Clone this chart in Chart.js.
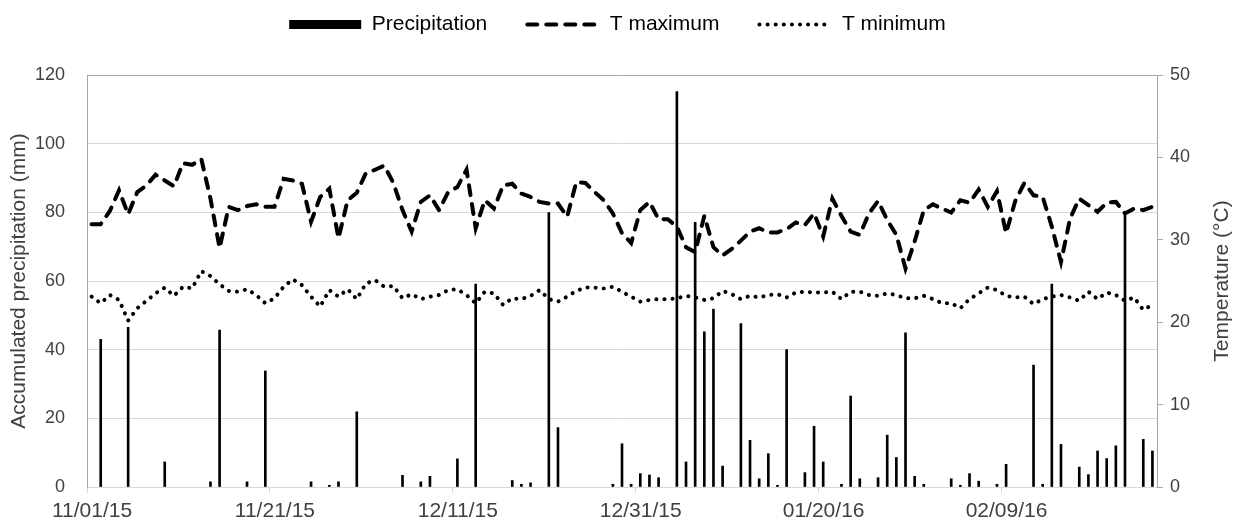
<!DOCTYPE html>
<html>
<head>
<meta charset="utf-8">
<title>Precipitation and temperature</title>
<script src="https://cdn.jsdelivr.net/npm/chart.js@4.4.1/dist/chart.umd.min.js"></script>
<style>
  html, body { margin: 0; padding: 0; background: #fff; }
  #wrap { position: relative; width: 1235px; height: 524px; }
</style>
</head>
<body>
<div id="wrap"><canvas id="chart"></canvas></div>
<script>
"use strict";

/* Daily series, 11/01/15 .. 02/25/16 (117 days). */
const X_TICK_DAYS = [0, 20, 40, 60, 80, 100];
const X_TICK_LABELS = ["11/01/15", "11/21/15", "12/11/15", "12/31/15", "01/20/16", "02/09/16"];

// accumulated precipitation, mm
const PRECIP = [
  0, 43, 0, 0, 46.5, 0, 0, 0, 7.3, 0,
  0, 0, 0, 1.5, 45.7, 0, 0, 1.5, 0, 33.8,
  0, 0, 0, 0, 1.5, 0, 0.5, 1.5, 0, 21.9,
  0, 0, 0, 0, 3.4, 0, 1.5, 3.1, 0, 0,
  8.2, 0, 59.1, 0, 0, 0, 1.9, 0.8, 1.2, 0,
  79.9, 17.3, 0, 0, 0, 0, 0, 0.8, 12.6, 0.8,
  3.9, 3.5, 2.7, 0, 115.2, 7.3, 77.1, 45.2, 51.8, 6.1,
  0, 47.6, 13.6, 2.4, 9.7, 0.5, 40, 0, 4.2, 17.7,
  7.3, 0, 0.8, 26.5, 2.4, 0, 2.7, 15.1, 8.6, 44.9,
  3.1, 0.8, 0, 0, 2.4, 0.5, 3.9, 1.7, 0, 0.8,
  6.6, 0, 0, 35.5, 0.8, 59.1, 12.4, 0, 5.8, 3.6,
  10.5, 8.3, 12.0, 79.4, 0, 13.9, 10.5,
];

// daily maximum temperature, °C
const TMAX = [
  31.9, 31.9, 33.5, 36.0, 33.1, 35.8, 36.6, 37.9, 37.2, 36.5,
  39.3, 39.1, 39.8, 35.0, 29.0, 34.0, 33.6, 34.1, 34.3, 34.0,
  34.0, 37.4, 37.2, 36.8, 32.2, 35.2, 36.2, 30.2, 34.8, 35.7,
  38.1, 38.5, 39.0, 36.9, 33.6, 31.0, 34.6, 35.4, 33.6, 35.8,
  36.4, 38.5, 31.4, 34.8, 33.8, 36.6, 36.8, 35.6, 35.2, 34.6,
  34.4, 34.4, 32.8, 37.0, 36.9, 35.8, 34.8, 33.2, 30.8, 29.6,
  33.6, 34.6, 32.5, 32.5, 31.6, 29.1, 28.5, 32.9, 29.1, 28.1,
  28.9, 29.9, 31.0, 31.4, 30.9, 30.9, 31.3, 32.1, 31.8, 33.2,
  30.4, 35.0, 32.9, 31.0, 30.6, 33.2, 34.7, 32.4, 30.6, 26.5,
  29.8, 33.6, 34.3, 33.8, 33.3, 34.8, 34.5, 36.1, 34.0, 35.9,
  30.8, 34.7, 36.9, 35.4, 35.2, 31.6, 27.3, 32.6, 35.0, 34.2,
  33.4, 34.5, 34.6, 33.2, 33.8, 33.6, 34.0,
];

// daily minimum temperature, °C
const TMIN = [
  23.1, 22.3, 23.3, 22.7, 20.2, 21.7, 22.6, 23.5, 24.2, 23.2,
  24.3, 24.1, 26.2, 25.6, 24.6, 23.8, 23.7, 24.0, 23.3, 22.3,
  22.9, 24.3, 25.2, 24.5, 23.1, 21.9, 23.9, 23.1, 24.0, 22.8,
  24.7, 25.1, 24.3, 24.4, 22.9, 23.4, 22.8, 23.1, 23.3, 23.9,
  24.0, 23.3, 22.3, 23.7, 23.5, 22.1, 22.9, 22.8, 23.2, 23.9,
  22.8, 22.5, 23.1, 23.8, 24.2, 24.2, 24.1, 24.3, 23.7, 23.1,
  22.5, 22.7, 22.8, 22.8, 22.9, 23.2, 23.0, 22.7, 22.9, 23.8,
  23.4, 22.8, 23.2, 23.0, 23.3, 23.4, 23.0, 23.6, 23.7, 23.6,
  23.6, 23.7, 22.8, 23.7, 23.7, 23.3, 23.2, 23.5, 23.3, 22.9,
  22.9, 23.2, 22.8, 22.3, 22.3, 21.7, 22.8, 23.5, 24.2, 23.9,
  23.2, 23.0, 23.1, 22.2, 22.8, 23.1, 23.3, 23.0, 22.6, 23.7,
  22.8, 23.6, 23.3, 22.6, 23.0, 21.5, 22.1,
];

const N_DAYS = PRECIP.length;
const FONT = '"Liberation Sans", Arial, sans-serif';
const TEXT = "#404040";
const GRID = "#d9d9d9";
const AXIS = "#a6a6a6";

Chart.defaults.font.family = FONT;
Chart.defaults.color = TEXT;
Chart.defaults.animation = false;

// each day sits in the middle of its one-day slot on the date axis
const asPoints = (arr) => arr.map((v, i) => ({ x: i + 0.5, y: v }));

/* Excel-style placement: fixed legend band and a right axis title that
 * reads bottom-to-top like the left one. */
const excelLayout = {
  id: "excelLayout",
  beforeInit(chart) {
    const legend = chart.legend;
    const fit = legend.fit;
    legend.fit = function () {
      fit.call(this);
      this.height = 75;
    };
  },
  afterLayout(chart) {
    const legend = chart.legend;
    const h = legend.height;
    legend.top = -26;
    legend.bottom = legend.top + h;
  },
  afterDraw(chart) {
    const { ctx, chartArea } = chart;
    ctx.save();
    ctx.translate(1222, (chartArea.top + chartArea.bottom) / 2);
    ctx.rotate(-Math.PI / 2);
    ctx.font = `21px ${FONT}`;
    ctx.fillStyle = TEXT;
    ctx.textAlign = "center";
    ctx.textBaseline = "middle";
    ctx.fillText("Temperature (°C)", 0, 0);
    ctx.restore();
  },
};

// the point-style legend ignores the line dash, so copy it from the dataset
function legendLabels(chart) {
  const items = Chart.defaults.plugins.legend.labels.generateLabels(chart);
  return items.map((item) => {
    const ds = chart.data.datasets[item.datasetIndex];
    if (ds.type === "line") {
      item.lineDash = ds.borderDash;
      item.lineWidth = ds.borderWidth;
      item.lineCap = ds.borderCapStyle;
      item.strokeStyle = ds.borderColor;
    }
    return item;
  });
}

new Chart(document.getElementById("chart"), {
  type: "bar",
  data: {
    datasets: [
      {
        type: "bar",
        label: "Precipitation",
        data: asPoints(PRECIP).filter((p) => p.y > 0),
        yAxisID: "y",
        backgroundColor: "#000",
        borderWidth: 0,
        barThickness: 2,
        pointStyle: "rect",
        order: 3,
      },
      {
        type: "line",
        label: "T maximum",
        data: asPoints(TMAX),
        yAxisID: "y2",
        borderColor: "#000",
        backgroundColor: "#000",
        borderWidth: 4,
        borderDash: [10, 9],
        borderCapStyle: "round",
        pointRadius: 0,
        pointStyle: "line",
        tension: 0,
        fill: false,
        order: 1,
      },
      {
        type: "line",
        label: "T minimum",
        data: asPoints(TMIN),
        yAxisID: "y2",
        borderColor: "#000",
        backgroundColor: "#000",
        borderWidth: 4,
        borderDash: [0.1, 8],
        borderCapStyle: "round",
        pointRadius: 0,
        pointStyle: "line",
        tension: 0,
        fill: false,
        order: 2,
      },
    ],
  },
  options: {
    responsive: true,
    maintainAspectRatio: false,
    devicePixelRatio: 1,
    layout: { padding: 0 },
    plugins: {
      tooltip: { enabled: false },
      legend: {
        position: "top",
        labels: {
          usePointStyle: true,
          pointStyleWidth: 72,
          boxHeight: 9,
          padding: 40,
          color: "#000",
          font: { size: 21 },
          generateLabels: legendLabels,
          sort: (a, b) => a.datasetIndex - b.datasetIndex,
        },
      },
    },
    scales: {
      x: {
        type: "linear",
        min: 0,
        max: N_DAYS,
        offset: false,
        afterBuildTicks: (scale) => {
          scale.ticks = X_TICK_DAYS.map((v) => ({ value: v }));
        },
        afterFit: (scale) => { scale.height = 37; },
        ticks: {
          autoSkip: false,
          maxRotation: 0,
          padding: 6,
          labelOffset: 5,
          font: { size: 21 },
          callback: (v) => {
            const i = X_TICK_DAYS.indexOf(v);
            return i < 0 ? "" : X_TICK_LABELS[i];
          },
        },
        grid: { offset: false, drawOnChartArea: false, drawTicks: true, tickLength: 6, color: GRID },
        border: { color: GRID },
      },
      y: {
        position: "left",
        min: 0,
        max: 120,
        afterFit: (scale) => { scale.width = 87; },
        ticks: { stepSize: 20, padding: 22, font: { size: 18 } },
        grid: {
          drawTicks: false,
          color: (c) => (c.tick && c.tick.value === 120 ? AXIS : GRID),
        },
        border: { color: AXIS },
        title: {
          display: true,
          text: "Accumulated precipitation (mm)",
          font: { size: 21 },
          padding: { top: 7, bottom: 0 },
        },
      },
      y2: {
        position: "right",
        min: 0,
        max: 50,
        afterFit: (scale) => { scale.width = 78; },
        ticks: { stepSize: 10, padding: 7, font: { size: 18 } },
        grid: { drawOnChartArea: false, drawTicks: true, tickLength: 6, color: AXIS },
        border: { color: AXIS },
      },
    },
  },
  plugins: [excelLayout],
});
</script>
</body>
</html>
